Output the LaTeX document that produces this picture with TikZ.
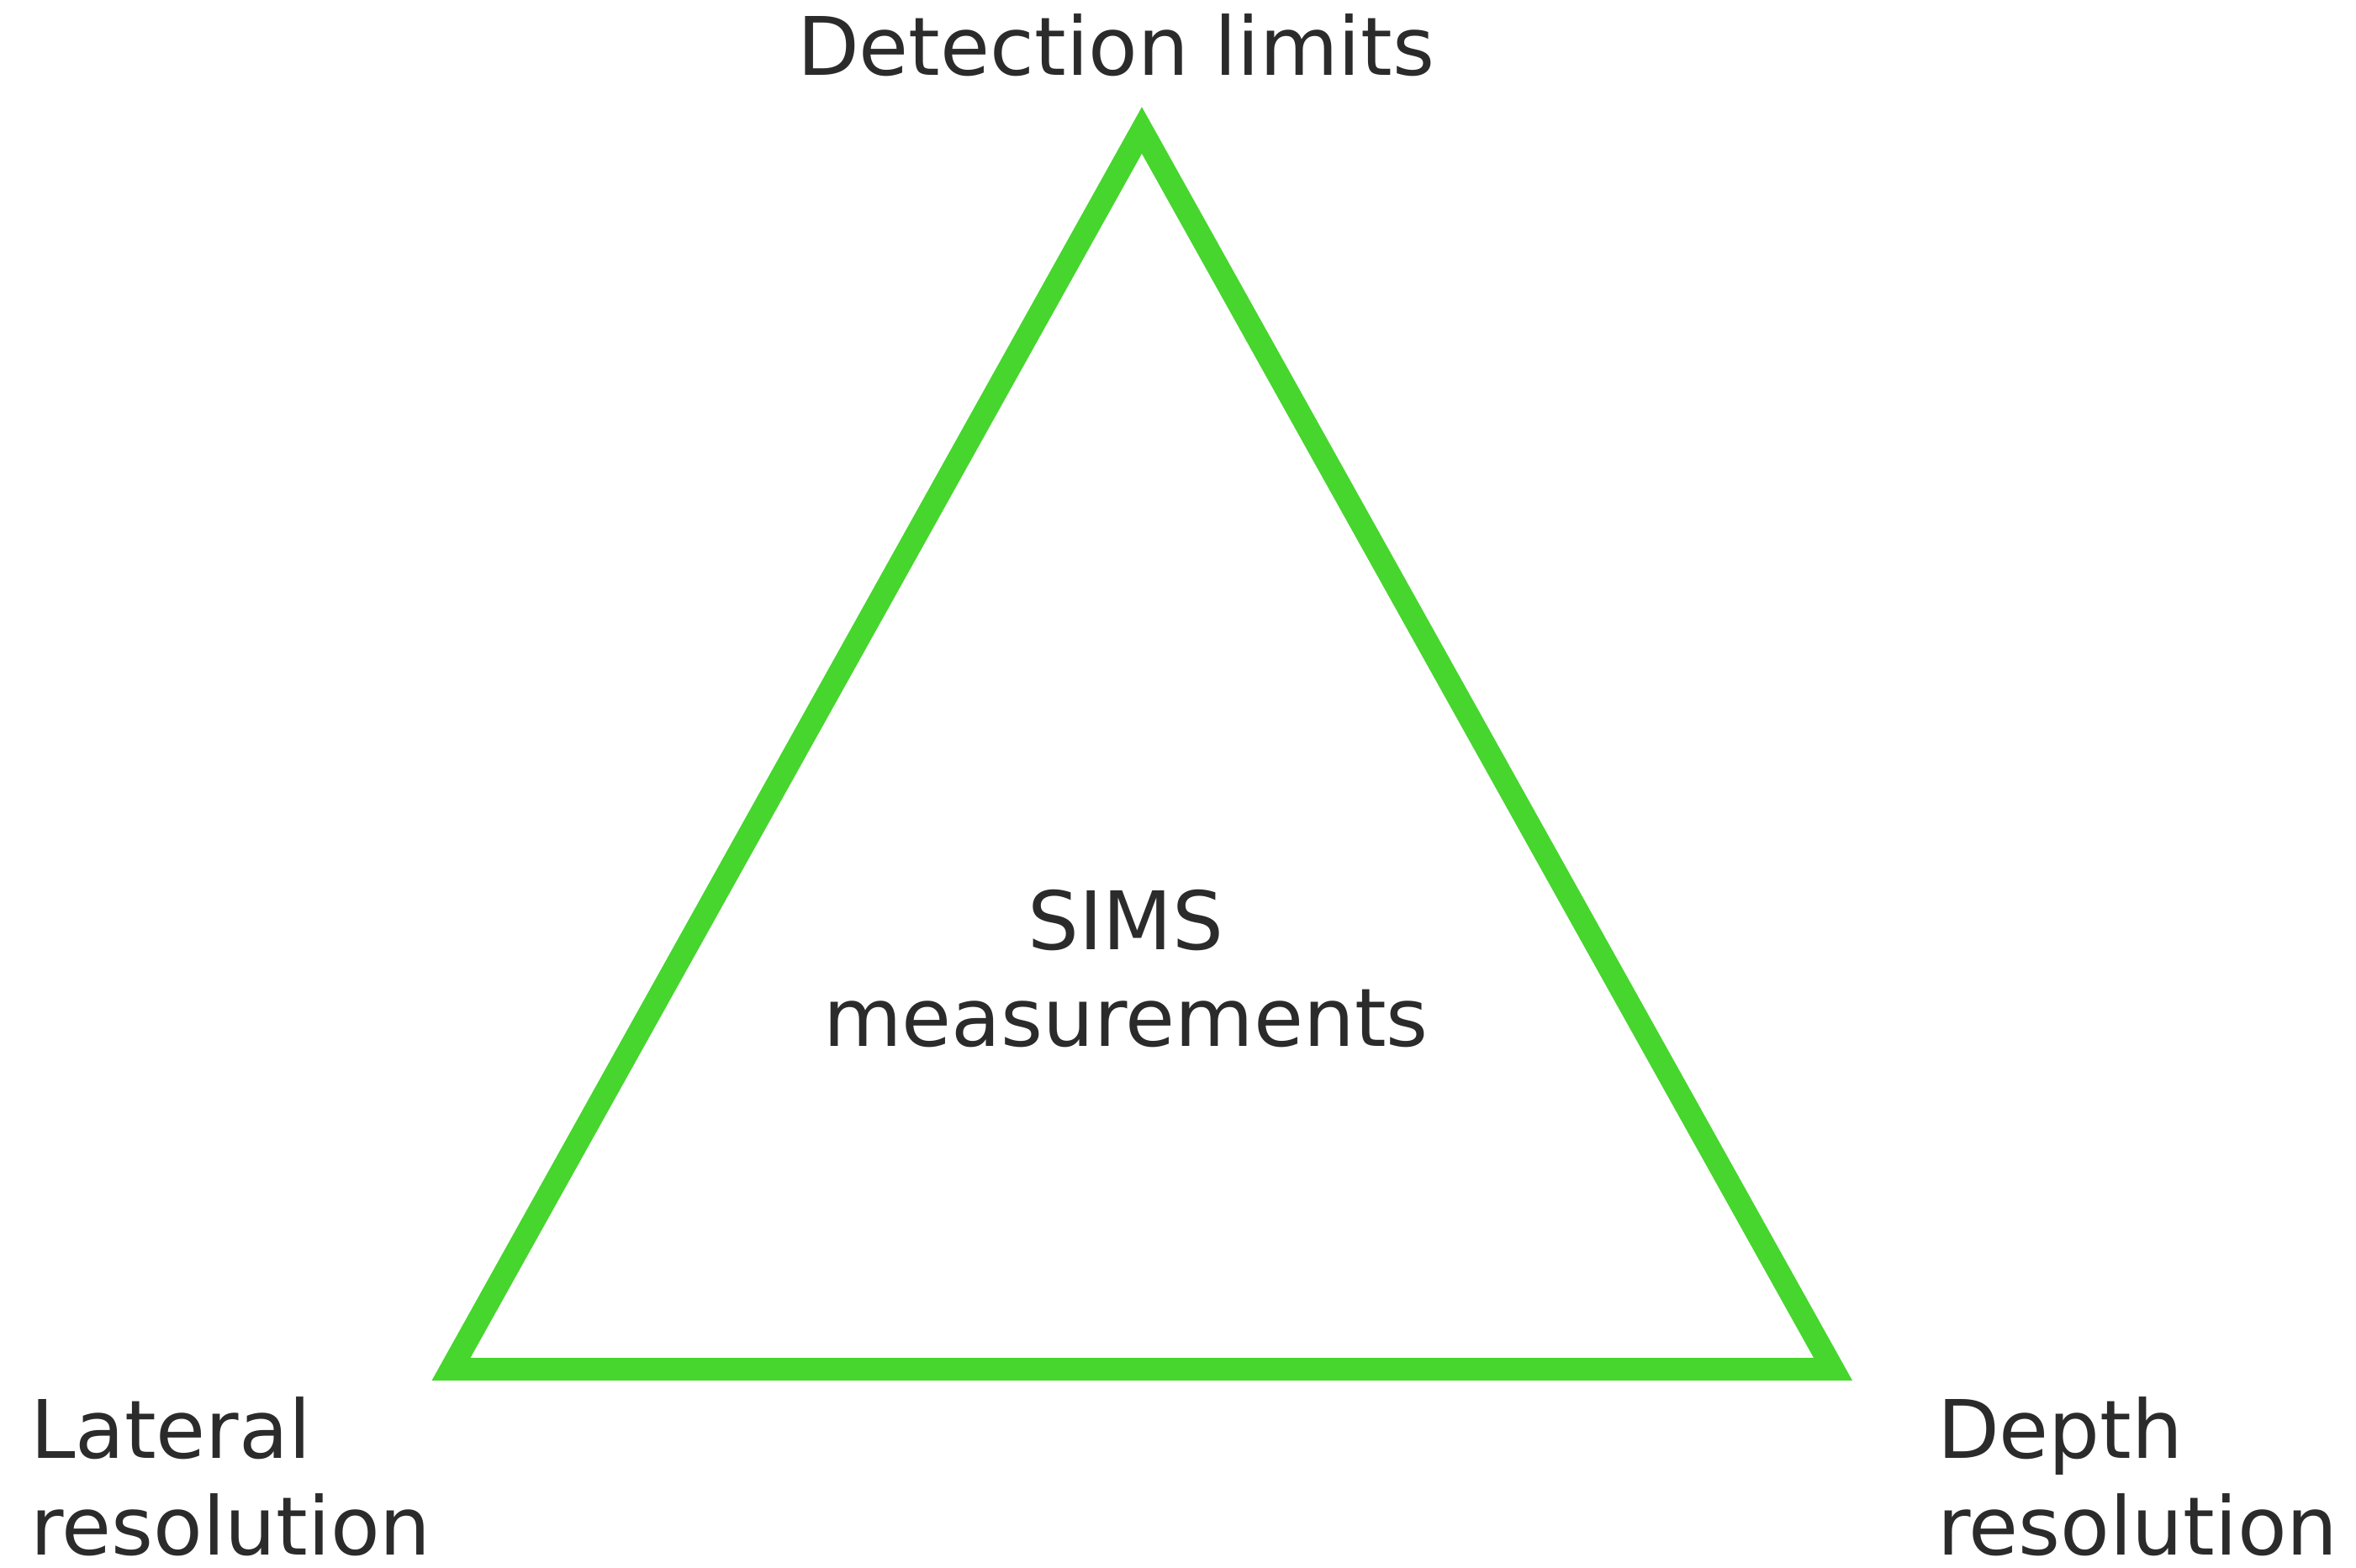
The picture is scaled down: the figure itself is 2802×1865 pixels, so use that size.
\documentclass[tikz,border=0pt]{standalone}
\usepackage{fontspec}
\setmainfont{DejaVu Sans}
\definecolor{edgegreen}{HTML}{46D62D}
\definecolor{labelgray}{HTML}{2B2B2B}
\begin{document}
\begin{tikzpicture}[x=1pt,y=-1pt,
  lbl/.style={inner sep=0pt,outer sep=0pt,text=labelgray,
    font=\fontsize{96}{115}\selectfont},
  edge/.style={draw=edgegreen,line width=27pt,line join=miter,miter limit=10}]
  \useasboundingbox (0,0) rectangle (2802,1865);

  % corners of the triangle (centre line of the stroke)
  \coordinate (top)   at (1358,155);
  \coordinate (left)  at (536.5,1628.5);
  \coordinate (right) at (2180,1628.5);
  \draw[edge] (top) -- (right) -- (left) -- cycle;

  % corner labels (base anchor sits on the last line's baseline)
  \node[lbl,anchor=base west] (det) at (948,90) {Detection limits};
  \node[lbl,anchor=base west,align=left] (lat) at (36,1849) {Lateral\\resolution};
  \node[lbl,anchor=base west,align=left] (dep) at (2304,1849) {Depth\\resolution};

  % centre label
  \node[lbl,anchor=base,align=center] (sims) at (1339,1244) {SIMS\\measurements};
\end{tikzpicture}
\end{document}
